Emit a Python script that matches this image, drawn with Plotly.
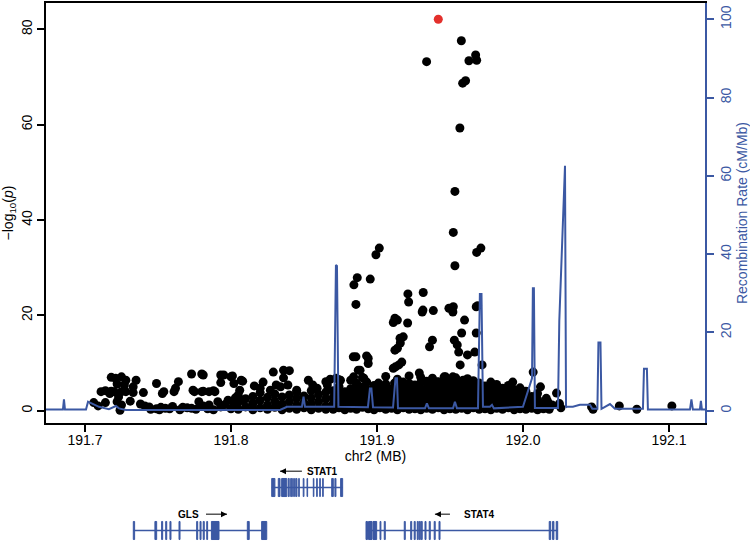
import plotly.graph_objects as go

BLUE = "#3b58a3"
RED = "#e3302c"
FONT = "Liberation Sans, Arial, Helvetica, sans-serif"

# ---------------- data ----------------
lead_pos = [191.9420]
lead_logp = [82.1]

# sparse / elevated SNPs (position MB, -log10 p)
high_snps = [
    (191.9578, 77.6), (191.9340, 73.2), (191.9676, 74.6), (191.9630, 73.4), (191.9683, 73.5),
    (191.9587, 68.7), (191.9607, 69.2), (191.9568, 59.3), (191.9534, 46.0), (191.9523, 37.4),
    (191.9712, 34.1), (191.9683, 33.2), (191.9016, 34.1), (191.8993, 32.7), (191.9534, 30.4),
    (191.8865, 27.9), (191.8842, 26.4), (191.8954, 27.6), (191.8856, 22.3), (191.9212, 24.5),
    (191.9217, 22.8), (191.9317, 24.8), (191.9315, 21.1), (191.9386, 21.0), (191.9493, 21.5),
    (191.9523, 21.8), (191.9689, 22.0),
]
mid_snps = [
    (191.9112, 18.5), (191.9123, 19.4), (191.8856, 11.3), (191.8929, 11.5), (191.8940, 9.9),
    (191.8872, 8.5), (191.9123, 12.7), (191.9127, 9.2), (191.8838, 11.3), (191.8940, 11.0),
    (191.8884, 8.5), (191.9158, 15.2), (191.9112, 8.9), (191.914, 19.0), (191.921, 18.4),
    (191.960, 19.0), (191.918, 15.5), (191.916, 14.2), (191.914, 13.1), (191.938, 14.8),
    (191.936, 13.4), (191.953, 14.8), (191.955, 13.8), (191.956, 12.3), (191.958, 16.3),
    (191.968, 16.3), (191.962, 11.7), (191.967, 12.3), (191.917, 10.2), (191.915, 9.6),
    (191.957, 9.6), (191.972, 9.6), (191.929, 7.9), (192.007, 8.1), (191.947, 7.1),
    (191.952, 7.1), (191.959, 6.4), (191.941, 6.0), (191.993, 6.0), (192.023, 3.7),
    (191.952, 20.7), (191.968, 21.8), (191.931, 20.7),
]
left_snps = [
    (191.706, 1.7), (191.714, 1.7), (191.711, 4.0), (191.714, 4.2), (191.718, 4.1), (191.721, 6.8),
    (191.725, 7.1), (191.728, 6.4), (191.727, 5.4), (191.722, 5.6), (191.720, 4.0), (191.725, 4.0),
    (191.728, 4.0), (191.723, 2.9), (191.722, 1.9), (191.725, 1.2), (191.724, 0.1), (191.733, 3.8),
    (191.735, 6.4), (191.733, 5.0), (191.740, 3.8), (191.738, 1.4), (191.744, 0.8), (191.749, 0.4),
    (191.752, 0.7), (191.753, 3.6), (191.761, 4.0), (191.764, 6.1), (191.758, 0.4), (191.767, 0.7),
    (191.773, 0.5), (191.773, 7.7), (191.780, 7.7), (191.775, 4.0), (191.780, 4.0), (191.785, 4.0),
    (191.789, 4.0), (191.778, 1.9), (191.785, 1.2), (191.791, 1.9), (191.793, 7.5), (191.793, 5.9),
    (191.798, 2.2), (191.800, 7.1), (191.741, 1.0), (191.745, 0.3), (191.751, 0.2), (191.755, 0.5),
    (191.760, 0.9), (191.765, 0.2), (191.770, 0.6), (191.776, 0.3), (191.781, 1.0), (191.784, 0.4),
    (191.788, 0.2), (191.793, 0.8), (191.796, 1.3), (191.800, 0.4), (191.802, 1.6), (191.749, 5.7),
    (191.754, 4.0), (191.762, 4.7), (191.774, 4.3), (191.781, 7.5), (191.781, 4.1), (191.788, 4.2),
    (191.795, 7.5), (191.802, 5.7), (191.807, 6.4), (191.717, 3.6), (191.709, 1.0), (191.718, 7.0),
    (191.731, 2.0),
]
midleft_snps = [
    (191.801, 7.3), (191.808, 6.2), (191.806, 4.3), (191.803, 2.7), (191.808, 2.2), (191.815, 1.6),
    (191.822, 6.0), (191.829, 8.1), (191.836, 8.5), (191.840, 8.4), (191.836, 6.9), (191.820, 4.7),
    (191.827, 4.3), (191.834, 5.0), (191.839, 5.4), (191.845, 4.3), (191.853, 6.4), (191.859, 4.7),
    (191.866, 5.4), (191.868, 6.6), (191.875, 6.4), (191.882, 6.4), (191.886, 5.8), (191.893, 6.0),
    (191.901, 5.8), (191.907, 4.3), (191.912, 5.8), (191.816, 5.2), (191.831, 5.4), (191.856, 5.4),
    (191.865, 6.1), (191.872, 6.8), (191.884, 7.1), (191.891, 6.8),
]
right_snps = [
    (192.025, 1.5), (192.026, 0.6), (192.047, 0.8), (192.048, 0.3), (192.066, 1.0), (192.078, 0.3),
    (192.102, 1.0), (192.012, 5.0), (192.010, 3.6), (192.016, 2.6), (192.020, 1.2), (192.017, 1.9),
]
# dense low band: column position -> values
band_columns = [
    (191.805, [0.3, 1.8, 3.3]), (191.810, [0.8, 2.5]), (191.815, [0.2, 1.5, 3.0]),
    (191.820, [0.6, 2.2, 3.8]), (191.825, [0.3, 1.2, 2.8]), (191.830, [0.7, 2.0, 3.5]),
    (191.835, [0.2, 1.4, 2.9]), (191.840, [0.5, 1.9, 3.3]), (191.845, [0.3, 1.1, 2.6, 3.9]),
    (191.850, [0.6, 1.7, 3.1]), (191.855, [0.2, 1.3, 2.7, 4.2]), (191.860, [0.5, 1.9, 3.4]),
    (191.865, [0.3, 1.0, 2.5, 3.9]),
    (191.870, [0.3, 1.5, 2.8, 4.2]), (191.874, [0.6, 2.0, 3.5, 5.1, 6.5]),
    (191.878, [0.2, 1.2, 2.6, 4.0]), (191.882, [0.5, 1.8, 3.1, 4.6]),
    (191.886, [0.3, 1.4, 2.9, 4.3, 5.6]), (191.890, [0.7, 2.1, 3.6, 5.0, 7.0]),
    (191.894, [0.4, 1.6, 3.0, 4.4]), (191.898, [0.2, 1.1, 2.5, 3.9, 5.3]),
    (191.902, [0.6, 1.9, 3.3, 4.8]), (191.906, [0.3, 1.3, 2.7, 4.1, 5.6, 7.2]),
    (191.910, [0.5, 1.7, 3.2, 4.6]), (191.914, [0.2, 1.0, 2.4, 3.8, 5.2, 6.6]),
    (191.918, [0.6, 1.8, 3.1, 4.5, 6.0]), (191.922, [0.3, 1.5, 2.9, 4.3, 5.7, 7.3]),
    (191.926, [0.4, 1.2, 2.6, 4.0, 5.4]), (191.930, [0.2, 1.6, 3.0, 4.4, 5.9, 7.0]),
    (191.934, [0.5, 1.9, 3.3, 4.7, 6.2]), (191.938, [0.3, 1.1, 2.5, 3.9, 5.5, 6.8]),
    (191.942, [0.6, 1.7, 3.1, 4.6, 6.1]), (191.946, [0.2, 1.4, 2.8, 4.2, 5.6, 7.1]),
    (191.950, [0.4, 1.8, 3.2, 4.8, 6.3]), (191.954, [0.3, 1.3, 2.7, 4.1, 5.5, 6.9]),
    (191.958, [0.5, 1.6, 3.0, 4.5, 6.0]), (191.962, [0.2, 1.2, 2.6, 4.0, 5.4, 6.7]),
    (191.966, [0.6, 1.9, 3.4, 4.9, 6.3]), (191.970, [0.3, 1.5, 2.9, 4.3, 5.8]),
    (191.974, [0.4, 1.1, 2.4, 3.8, 5.2]), (191.978, [0.2, 1.7, 3.1, 4.6, 6.0]),
    (191.982, [0.5, 1.4, 2.8, 4.2, 5.5]), (191.986, [0.3, 1.8, 3.2, 4.7]),
    (191.990, [0.6, 1.2, 2.6, 4.0, 5.3]), (191.994, [0.2, 1.5, 2.9, 4.4]),
    (191.998, [0.4, 1.9, 3.3, 4.8]), (192.002, [0.3, 1.3, 2.7, 4.1]),
    (192.006, [0.5, 1.6, 3.0]), (192.010, [0.2, 1.1, 2.4]), (192.014, [0.4, 1.4]),
    (192.018, [0.3]),
]

# recombination rate (cM/Mb)
recomb_pos = [191.6733, 191.6849, 191.6856, 191.6863, 191.7007, 191.7021, 191.7027, 191.7096,
              191.7164, 191.7212, 191.7233, 191.7281, 191.8034, 191.8336, 191.8384, 191.8486,
              191.8497, 191.8507, 191.8699, 191.8707, 191.8719, 191.8726, 191.8736, 191.8938,
              191.8952, 191.8962, 191.8973, 191.9110, 191.9127, 191.9137, 191.9144, 191.9329,
              191.9342, 191.9356, 191.9521, 191.9534, 191.9548, 191.9692, 191.9705, 191.9716,
              191.9726, 191.9774, 191.9788, 191.9801, 192.0000, 192.0062, 192.0068, 192.0075,
              192.0082, 192.0240, 192.0249, 192.0288, 192.0295, 192.0301, 192.0342, 192.0390,
              192.0459, 192.0475, 192.0510, 192.0517, 192.0531, 192.0538, 192.0596, 192.0630,
              192.0822, 192.0829, 192.0849, 192.0856, 192.1144, 192.1154, 192.1164, 192.1212,
              192.1219, 192.1226, 192.1247]
recomb_rate = [0.3, 0.3, 2.9, 0.3, 0.3, 2.3, 2.2, 1.0,
               0.4, 1.2, 0.6, 0.2, 0.2, 0.2, 1.0, 1.0,
               3.6, 1.0, 1.0, 1.0, 37.2, 37.0, 1.0, 0.9,
               5.7, 5.7, 0.9, 0.8, 8.3, 8.3, 0.6, 0.6,
               1.9, 0.6, 0.6, 2.3, 0.6, 0.6, 29.8, 29.8,
               1.0, 1.0, 1.5, 0.6, 1.0, 8.3, 31.3, 31.3,
               0.7, 0.7, 23.0, 62.6, 0.8, 1.0, 1.0, 1.5,
               1.5, 0.5, 0.5, 17.4, 17.4, 0.5, 1.7, 0.5,
               0.5, 10.7, 10.7, 0.3, 0.3, 2.9, 0.3, 0.3,
               2.5, 0.3, 0.3]

# genes: name, track row, start, end, exon (start, end) list
gene_names = ["GLS", "STAT1", "STAT4"]
gene_rows = [1, 2, 1]
gene_starts = [191.7331, 191.8279, 191.8925]
gene_ends = [191.8245, 191.8765, 192.0238]
gene_exons = [
    [(191.7331, 191.7340), (191.7479, 191.7491), (191.7525, 191.7532), (191.7553, 191.7560),
     (191.7582, 191.7589), (191.7644, 191.7651), (191.7765, 191.7772), (191.7788, 191.7795),
     (191.7810, 191.7817), (191.7834, 191.7840), (191.7866, 191.7918), (191.8112, 191.8125),
     (191.8210, 191.8245)],
    [(191.8279, 191.8301), (191.8324, 191.8336), (191.8347, 191.8382), (191.8392, 191.8399),
     (191.8409, 191.8416), (191.8423, 191.8427), (191.8436, 191.8440), (191.8447, 191.8452),
     (191.8464, 191.8468), (191.8495, 191.8500), (191.8521, 191.8525), (191.8564, 191.8568),
     (191.8587, 191.8591), (191.8608, 191.8612), (191.8628, 191.8632), (191.8690, 191.8701),
     (191.8712, 191.8719), (191.8751, 191.8765)],
    [(191.8925, 191.8935), (191.8942, 191.8966), (191.8973, 191.8998), (191.9021, 191.9027),
     (191.9050, 191.9057), (191.9187, 191.9194), (191.9231, 191.9238), (191.9255, 191.9262),
     (191.9276, 191.9283), (191.9290, 191.9297), (191.9303, 191.9310), (191.9329, 191.9336),
     (191.9358, 191.9365), (191.9392, 191.9399), (191.9425, 191.9432), (192.0180, 192.0190),
     (192.0203, 192.0212), (192.0228, 192.0238)],
]
# label text centre, arrow tail, arrow tip
gene_label_x = [191.7709, 191.8630, 191.9702]
gene_arrow_tail = [191.7829, 191.8486, 191.9500]
gene_arrow_tip = [191.7973, 191.8336, 191.9397]

x_ticks = [191.7, 191.8, 191.9, 192.0, 192.1]
x_ticklabels = ["191.7", "191.8", "191.9", "192.0", "192.1"]
y_ticks = [0, 20, 40, 60, 80]
y2_ticks = [0, 20, 40, 60, 80, 100]

# ---------------- build ----------------
snp_pos, snp_logp = [], []
for group in (left_snps, midleft_snps, mid_snps, high_snps, right_snps):
    for p, v in group:
        snp_pos.append(p)
        snp_logp.append(v)
for p, vals in band_columns:
    for v in vals:
        snp_pos.append(p)
        snp_logp.append(v)

fig = go.Figure()
fig.add_trace(go.Scatter(x=snp_pos, y=snp_logp, mode="markers",
                         marker=dict(color="black", size=9, line=dict(width=0)),
                         xaxis="x", yaxis="y", hoverinfo="skip"))
fig.add_trace(go.Scatter(x=lead_pos, y=lead_logp, mode="markers",
                         marker=dict(color=RED, size=9, line=dict(width=0)),
                         xaxis="x", yaxis="y"))
fig.add_trace(go.Scatter(x=recomb_pos, y=recomb_rate, mode="lines",
                         line=dict(color=BLUE, width=2),
                         xaxis="x", yaxis="y2"))

EXON_H = 0.21
LABEL_DY = 0.38
annotations = []
for i, name in enumerate(gene_names):
    row = gene_rows[i]
    fig.add_trace(go.Scatter(x=[gene_starts[i], gene_ends[i]], y=[row, row], mode="lines",
                             line=dict(color=BLUE, width=1.5), xaxis="x2", yaxis="y3"))
    ex, ey = [], []
    for s, e in gene_exons[i]:
        ex += [s, e, e, s, s, None]
        ey += [row - EXON_H, row - EXON_H, row + EXON_H, row + EXON_H, row - EXON_H, None]
    fig.add_trace(go.Scatter(x=ex, y=ey, mode="lines", fill="toself", fillcolor=BLUE,
                             line=dict(color=BLUE, width=1), xaxis="x2", yaxis="y3"))
    # direction arrow: shaft + head
    tail, tip = gene_arrow_tail[i], gene_arrow_tip[i]
    head = "arrow-right" if tip > tail else "arrow-left"
    fig.add_trace(go.Scatter(x=[tail, tip], y=[row + LABEL_DY] * 2, mode="lines",
                             line=dict(color="black", width=1), xaxis="x2", yaxis="y3"))
    fig.add_trace(go.Scatter(x=[tip], y=[row + LABEL_DY], mode="markers",
                             marker=dict(symbol=head, size=6, color="black", line=dict(width=0)),
                             xaxis="x2", yaxis="y3"))
    annotations.append(dict(x=gene_label_x[i], y=row + LABEL_DY, xref="x2", yref="y3",
                            text="<b>%s</b>" % name, showarrow=False,
                            font=dict(family=FONT, size=10, color="black")))

fig.update_layout(
    width=750, height=543,
    margin=dict(l=46, r=45, t=3, b=0),
    paper_bgcolor="white", plot_bgcolor="white",
    showlegend=False,
    font=dict(family=FONT, size=14, color="black"),
    annotations=annotations,
    xaxis=dict(domain=[0, 1], range=[191.6733, 192.1247], anchor="y",
               tickvals=x_ticks, ticktext=x_ticklabels,
               ticks="outside", ticklen=7, tickwidth=1.5, tickcolor="black",
               ticklabelstandoff=-4,
               showline=True, linecolor="black", linewidth=1.5, mirror=True,
               showgrid=False, zeroline=False,
               title=dict(text="chr2 (MB)", standoff=2, font=dict(size=14))),
    yaxis=dict(domain=[0.2222, 1], range=[-2.58, 85.51], anchor="x",
               tickvals=y_ticks, tickangle=-90,
               ticks="outside", ticklen=7, tickwidth=1.5, tickcolor="black",
               showline=True, linecolor="black", linewidth=1.5, mirror=True,
               showgrid=False, zeroline=False,
               title=dict(text="\u2212log<sub>10</sub>(<i>p</i>)", standoff=4, font=dict(size=14))),
    yaxis2=dict(overlaying="y", side="right", anchor="x", range=[-3.14, 104.17],
                tickvals=y2_ticks, tickangle=-90,
                ticks="outside", ticklen=7, tickwidth=1.5, tickcolor=BLUE,
                tickfont=dict(color=BLUE, size=14),
                showline=True, linecolor=BLUE, linewidth=1.5,
                showgrid=False, zeroline=False,
                title=dict(text="Recombination Rate (cM/Mb)", standoff=4,
                           font=dict(color=BLUE, size=14))),
    xaxis2=dict(domain=[0, 1], matches="x", anchor="y3", visible=False),
    yaxis3=dict(domain=[0, 83 / 540], range=[0.709, 2.640], visible=False),
)

fig.write_html("out.html", config={"displayModeBar": False},
               post_script="document.body.style.margin='0px';")
